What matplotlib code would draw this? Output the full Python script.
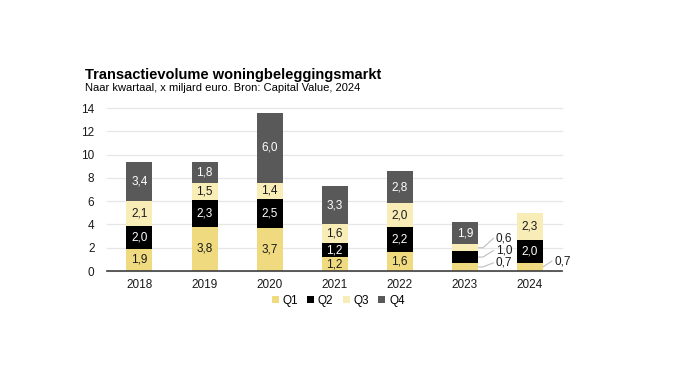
import numpy as np
import matplotlib.pyplot as plt

plt.rcParams['font.family'] = ['Liberation Sans', 'DejaVu Sans']

years = ['2018', '2019', '2020', '2021', '2022', '2023', '2024']
q1 = [1.9, 3.8, 3.7, 1.2, 1.6, 0.7, 0.7]
q2 = [2.0, 2.3, 2.5, 1.2, 2.2, 1.0, 2.0]
q3 = [2.1, 1.5, 1.4, 1.6, 2.0, 0.6, 2.3]
q4 = [3.4, 1.8, 6.0, 3.3, 2.8, 1.9, 0.0]

series = [q1, q2, q3, q4]
names = ['Q1', 'Q2', 'Q3', 'Q4']
colors = ['#EFDA7F', '#000000', '#F8EDB6', '#595959']
txtcol = ['#1a1a1a', 'white', '#1a1a1a', 'white']

fig = plt.figure(figsize=(6.9, 3.88), dpi=100)
ax = fig.add_axes([0.155, 0.3015, 0.66, 0.4201])

x = np.arange(len(years))
w = 0.4
bottom = np.zeros(len(years))
for k, (vals, nm) in enumerate(zip(series, names)):
    vals = np.array(vals)
    ax.bar(x, vals, w, bottom=bottom, color=colors[k], label=nm, zorder=2)
    for i, v in enumerate(vals):
        if v == 0:
            continue
        mid = bottom[i] + v / 2
        lbl = f'{v:.1f}'.replace('.', ',')
        if years[i] == '2023' and k < 3:
            # small segments: label outside with leader line
            ly = [0.7, 1.75, 2.8][k]
            ax.plot([i + w / 2, i + w / 2 + 0.08, i + w / 2 + 0.24],
                    [mid, mid, ly], color='#bfbfbf', lw=0.8, zorder=1,
                    clip_on=False)
            ax.text(i + w / 2 + 0.28, ly, lbl, ha='left', va='center',
                    fontsize=8.5, color='#1a1a1a')
        elif years[i] == '2024' and k == 0:
            ax.plot([i + w / 2, i + w / 2 + 0.14], [mid, 0.85],
                    color='#bfbfbf', lw=0.8, zorder=1, clip_on=False)
            ax.text(i + w / 2 + 0.18, 0.85, lbl, ha='left', va='center',
                    fontsize=8.5, color='#1a1a1a')
        else:
            ax.text(i, mid, lbl, ha='center', va='center', fontsize=8.5,
                    color=txtcol[k], zorder=3)
    bottom += vals

ax.set_xlim(-0.5, 6.5)
ax.set_ylim(0, 14)
ax.set_yticks(range(0, 15, 2))
ax.set_xticks(x)
ax.set_xticklabels(years)
ax.tick_params(length=0, labelsize=8.5, colors='#1a1a1a')
ax.tick_params(axis='y', pad=9)
ax.tick_params(axis='x', pad=6)
ax.yaxis.grid(True, color='#e6e6e6', lw=0.9, zorder=0, clip_on=False)
ax.set_axisbelow(True)
for s in ['top', 'right', 'left']:
    ax.spines[s].set_visible(False)
ax.spines['bottom'].set_color('#404040')
ax.spines['bottom'].set_linewidth(1.2)

fig.text(0.123, 0.807, 'Transactievolume woningbeleggingsmarkt',
         fontsize=10.5, fontweight='bold', va='center', ha='left')
fig.text(0.123, 0.773, 'Naar kwartaal, x miljard euro. Bron: Capital Value, 2024',
         fontsize=8, va='center', ha='left')

fig.legend(loc='center', bbox_to_anchor=(0.49, 0.225), ncol=4, frameon=False,
           fontsize=8.5, handlelength=0.6, handleheight=0.6, handletextpad=0.3,
           columnspacing=0.8)

fig.savefig('out.png', dpi=100)
